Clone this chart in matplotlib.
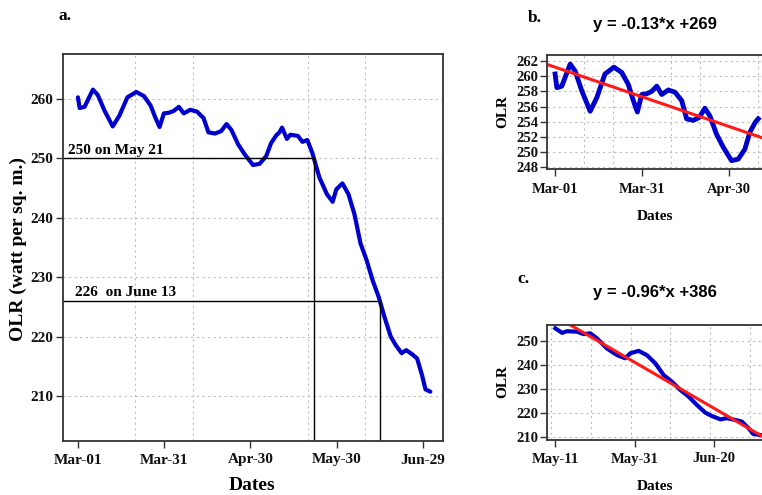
import numpy as np
import matplotlib
matplotlib.use("Agg")
import matplotlib.pyplot as plt

# daily OLR, days counted from Mar-01
days = [0, 0.6, 2.3, 3.4, 5.2, 6.9, 9.2, 12.1, 14.4, 17.2, 20.3, 23, 25.3, 27, 28.4,
        29.9, 31.6, 33.3, 35.1, 36.8, 39.1, 41.4, 43.7, 45.4, 47.7, 49.8, 51.7, 53.4,
        55.7, 58, 60.9, 63.2, 65.5, 67.2, 69, 70.1, 71, 72.7, 73.9, 76.5, 78.1, 79.8,
        81.5, 84, 86.6, 88.6, 89.9, 92, 94.1, 96.2, 98.3, 100.4, 102.5, 104.6, 106.7,
        108.8, 110.5, 112.6, 114.2, 116.3, 118, 119.7, 120.9, 122.6]
olr = [260.3, 258.5, 258.7, 259.8, 261.6, 260.7, 258.1, 255.4, 257.2, 260.3, 261.2,
       260.5, 258.9, 256.8, 255.3, 257.6, 257.7, 258.0, 258.7, 257.6, 258.2, 257.9,
       256.8, 254.4, 254.2, 254.6, 255.8, 254.8, 252.4, 250.7, 248.9, 249.1, 250.4,
       252.6, 253.9, 254.4, 255.2, 253.3, 254.0, 253.8, 252.8, 253.1, 251.0, 246.8,
       244.0, 242.7, 244.8, 245.8, 244.0, 240.6, 235.7, 232.9, 229.5, 226.7, 223.2,
       220.0, 218.6, 217.2, 217.7, 217.0, 216.3, 213.5, 211.1, 210.7]

# threshold crossings marked in panel a
cross_days = [82, 105]
cross_vals = [250, 226]
cross_text = ["250 on May 21", "226  on June 13"]

# linear fits (x = day of year, Mar-01 = 60)
doy_offset = 60
fit_b = (-0.13, 269)
fit_c = (-0.96, 386)

ticks_a = [0, 30, 60, 90, 120]
labels_a = ["Mar-01", "Mar-31", "Apr-30", "May-30", "Jun-29"]
ticks_b = [0, 30, 60]
labels_b = ["Mar-01", "Mar-31", "Apr-30"]
ticks_c = [71, 91, 111]
labels_c = ["May-11", "May-31", "Jun-20"]

days = np.array(days)
olr = np.array(olr)

plt.rcParams['font.family'] = ['Liberation Serif', 'DejaVu Serif']
plt.rcParams['font.weight'] = 'bold'

blue = '#0000cc'
red = '#ff1a1a'
grid_kw = dict(linestyle=(0, (2, 3)), color='#bdbdbd', linewidth=0.8)

W, H = 762, 495
fig = plt.figure(figsize=(W / 100, H / 100), dpi=100)


def box(l, t, r, b):
    return [l / W, 1 - b / H, (r - l) / W, (b - t) / H]


def style(ax, fs=10.5):
    for s in ax.spines.values():
        s.set_color('#333333')
        s.set_linewidth(1.3)
    ax.tick_params(which='major', direction='out', length=5, width=1,
                   color='#333333', labelsize=fs, pad=2, labelcolor='#111111')
    ax.tick_params(which='minor', length=0)
    for lab in ax.get_xticklabels() + ax.get_yticklabels():
        lab.set_fontweight('bold')


# ---- panel a
ax = fig.add_axes(box(63, 54, 443, 441))
ax.plot(days, olr, color=blue, lw=3, solid_capstyle='round')
ax.set_xlim(-5.2, 127)
ax.set_ylim(202.4, 267.6)
ax.set_xticks(ticks_a)
ax.set_xticklabels(labels_a)
ax.set_xticks(np.arange(0, 121, 20), minor=True)
ax.set_yticks([210, 220, 230, 240, 250, 260])
ax.grid(which='minor', axis='x', **grid_kw)
ax.grid(which='major', axis='y', **grid_kw)
for d, v, t, tx in zip(cross_days, cross_vals, cross_text, [-3.5, -1]):
    ax.plot([-5.2, d], [v, v], color='black', lw=1)
    ax.plot([d, d], [202.4, v], color='black', lw=1)
    ax.text(tx, v + 0.8, t, fontsize=11, fontweight='bold', va='baseline')
style(ax, 11)
ax.tick_params(axis='x', pad=4)

# ---- panel b
bx = fig.add_axes(box(547, 55, 766, 169))
m = days <= 70.5
bx.plot(days[m], olr[m], color=blue, lw=3.5)
xb = np.array([-2.8, 72.8])
bx.plot(xb, fit_b[0] * (xb + doy_offset) + fit_b[1], color=red, lw=2.2)
bx.set_xlim(-2.8, 72.8)
bx.set_ylim(247.8, 262.8)
bx.set_xticks(ticks_b)
bx.set_xticklabels(labels_b)
bx.set_xticks(np.arange(0, 71, 10), minor=True)
bx.set_yticks(np.arange(248, 263, 2))
bx.grid(which='minor', axis='x', **grid_kw)
bx.grid(which='major', axis='y', **grid_kw)
style(bx)
bx.tick_params(axis='y', pad=1)
bx.tick_params(axis='x', pad=5)

# ---- panel c
cx = fig.add_axes(box(547, 324.5, 766, 440))
m = days >= 71
cx.plot(days[m], olr[m], color=blue, lw=3)
xc = np.array([68.9, 124.1])
cx.plot(xc, fit_c[0] * (xc + doy_offset) + fit_c[1], color=red, lw=2.2)
cx.set_xlim(68.9, 124.1)
cx.set_ylim(208.6, 256.8)
cx.set_xticks(ticks_c)
cx.set_xticklabels(labels_c)
cx.set_xticks(np.arange(70, 121, 10), minor=True)
cx.set_yticks([210, 220, 230, 240, 250])
cx.grid(which='minor', axis='x', **grid_kw)
cx.grid(which='major', axis='y', **grid_kw)
style(cx)
cx.tick_params(axis='y', pad=1)
cx.tick_params(axis='x', pad=4)

# ---- labels and titles
def ftext(x, y, s, **kw):
    fig.text(x / W, 1 - y / H, s, ha='center', va='center', **kw)

ftext(65, 16, "a.", fontsize=12.5, fontweight='bold')
ftext(535, 18, "b.", fontsize=12.5, fontweight='bold')
ftext(523, 279, "c.", fontsize=12.5, fontweight='bold')
ftext(252, 486, "Dates", fontsize=14, fontweight='bold')
ftext(18, 249, "OLR (watt per sq. m.)", fontsize=14, fontweight='bold', rotation=90)
ftext(655, 217, "Dates", fontsize=11, fontweight='bold')
ftext(503, 112, "OLR", fontsize=11, fontweight='bold', rotation=90)
ftext(655, 487, "Dates", fontsize=11, fontweight='bold')
ftext(503, 382, "OLR", fontsize=11, fontweight='bold', rotation=90)
ftext(655, 24, "y = -0.13*x +269", fontsize=12, fontweight='bold', family='Liberation Sans')
ftext(655, 293, "y = -0.96*x +386", fontsize=12, fontweight='bold', family='Liberation Sans')

fig.savefig("out.png", dpi=100)
